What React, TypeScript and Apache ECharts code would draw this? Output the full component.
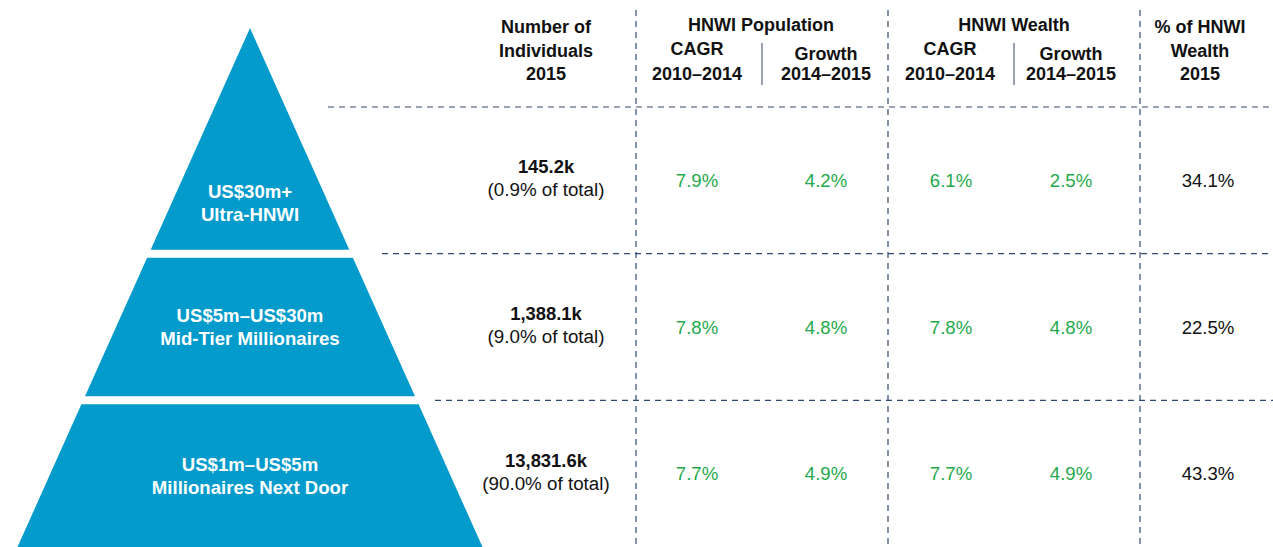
import React, { useEffect, useRef } from "react";
import * as echarts from "echarts";

// ---- data ----
const tierRanges = ["US$30m+", "US$5m–US$30m", "US$1m–US$5m"];
const tierNames = ["Ultra-HNWI", "Mid-Tier Millionaires", "Millionaires Next Door"];
const individualsK = [145.2, 1388.1, 13831.6];
const shareOfTotal = [0.9, 9.0, 90.0];
const popCagr = [7.9, 7.8, 7.7];
const popGrowth = [4.2, 4.8, 4.9];
const wealthCagr = [6.1, 7.8, 7.7];
const wealthGrowth = [2.5, 4.8, 4.9];
const wealthShare = [34.1, 22.5, 43.3];

const headerIndividuals = ["Number of", "Individuals", "2015"];
const groupHeaders = ["HNWI Population", "HNWI Wealth"];
const subHeaderCagr = ["CAGR", "2010–2014"];
const subHeaderGrowth = ["Growth", "2014–2015"];
const headerShare = ["% of HNWI", "Wealth", "2015"];

// ---- layout / style ----
const W = 1273;
const H = 547;
const FONT = '"Liberation Sans", Arial, Helvetica, sans-serif';
const BLUE = "#039bcc";
const GREEN = "#1fa94c";
const INK = "#111111";
const RULE = "#2f4a6f";
const PYR_CX = 250;
const APEX_Y = 28;
const SLOPE = 0.448;
const GAP = 8;
const COL_IND = 546;
const COL_PCT = [697, 826, 951, 1071, 1208];
const VLINES = [636, 888, 1140];
const SEPS = [762, 1014];
const GROUP_CX = [761, 1014];
const SUB_CX = [[697, 826], [950, 1071]];
const DASH_START = [328, 382, 435];

const fmt1 = (v: number) =>
  v.toLocaleString("en-US", { minimumFractionDigits: 1, maximumFractionDigits: 1 });

function headerText(text: string, x: number, y: number) {
  return {
    type: "text",
    style: {
      text,
      x,
      y,
      align: "center",
      verticalAlign: "middle",
      fill: INK,
      fontFamily: FONT,
      fontSize: 18,
      fontWeight: "bold",
    },
  };
}

export default function App() {
  const ref = useRef<HTMLDivElement>(null);

  useEffect(() => {
    if (!ref.current) return;
    const chart = echarts.init(ref.current, undefined, { renderer: "svg" });

    const pctCols = [popCagr, popGrowth, wealthCagr, wealthGrowth, wealthShare];

    const graphics: any[] = [];
    headerIndividuals.forEach((t, k) => graphics.push(headerText(t, COL_IND, 27 + k * 23.5)));
    headerShare.forEach((t, k) => graphics.push(headerText(t, 1200, 27 + k * 23.5)));
    groupHeaders.forEach((t, g) => {
      graphics.push(headerText(t, GROUP_CX[g], 25));
      graphics.push(headerText(subHeaderCagr[0], SUB_CX[g][0], 49));
      graphics.push(headerText(subHeaderCagr[1], SUB_CX[g][0], 74));
      graphics.push(headerText(subHeaderGrowth[0], SUB_CX[g][1], 54));
      graphics.push(headerText(subHeaderGrowth[1], SUB_CX[g][1], 74));
    });
    VLINES.forEach((x) =>
      graphics.push({
        type: "line",
        shape: { x1: x, y1: 10, x2: x, y2: H },
        style: { stroke: RULE, lineWidth: 1.2, lineDash: [6, 5] },
      })
    );
    SEPS.forEach((x) =>
      graphics.push({
        type: "line",
        shape: { x1: x, y1: 43, x2: x, y2: 85 },
        style: { stroke: "#54657f", lineWidth: 1.2 },
      })
    );

    const option: any = {
      animation: false,
      backgroundColor: "#ffffff",
      grid: { left: 0, right: 0, top: 107, height: 441 },
      xAxis: { type: "value", min: 0, max: 1, show: false },
      yAxis: { type: "category", data: tierNames, inverse: true, show: false },
      graphic: graphics,
      series: [
        {
          type: "custom",
          clip: false,
          encode: { x: 0, y: 1 },
          data: tierNames.map((_, i) => [0, i]),
          renderItem: (params: any, api: any) => {
            const i = params.dataIndex;
            const c = api.coord([0, i]);
            const band = api.size([0, 1])[1];
            const top = c[1] - band / 2;
            const bottom = c[1] + band / 2;
            const last = i === tierNames.length - 1;
            const segTop = i === 0 ? APEX_Y : top + GAP / 2;
            const segBottom = last ? bottom : bottom - GAP / 2;
            const hw = (y: number) => (y - APEX_Y) * SLOPE;
            const points = [
              [PYR_CX - hw(segTop), segTop],
              [PYR_CX + hw(segTop), segTop],
              [PYR_CX + hw(segBottom), segBottom],
              [PYR_CX - hw(segBottom), segBottom],
            ];
            const labelY = i === 0 ? segBottom - 47 : (segTop + segBottom) / 2;
            const children: any[] = [
              { type: "polygon", shape: { points }, style: { fill: BLUE } },
              {
                type: "text",
                style: {
                  text: tierRanges[i] + "\n" + tierNames[i],
                  x: PYR_CX,
                  y: labelY,
                  align: "center",
                  verticalAlign: "middle",
                  fill: "#ffffff",
                  fontFamily: FONT,
                  fontSize: 18.6,
                  fontWeight: "bold",
                  lineHeight: 23,
                },
              },
              {
                type: "line",
                shape: { x1: DASH_START[i], y1: top, x2: W, y2: top },
                style: { stroke: RULE, lineWidth: 1.2, lineDash: [6, 5] },
              },
              {
                type: "text",
                style: {
                  text:
                    "{b|" + fmt1(individualsK[i]) + "k}\n{n|(" + fmt1(shareOfTotal[i]) + "% of total)}",
                  x: COL_IND,
                  y: c[1] - 2,
                  align: "center",
                  verticalAlign: "middle",
                  rich: {
                    b: { fontFamily: FONT, fontSize: 18.4, fontWeight: "bold", fill: INK, lineHeight: 23, align: "center" },
                    n: { fontFamily: FONT, fontSize: 18.8, fill: INK, lineHeight: 23, align: "center" },
                  },
                },
              },
            ];
            pctCols.forEach((col, k) => {
              children.push({
                type: "text",
                style: {
                  text: fmt1(col[i]) + "%",
                  x: COL_PCT[k],
                  y: c[1],
                  align: "center",
                  verticalAlign: "middle",
                  fill: k < 4 ? GREEN : INK,
                  fontFamily: FONT,
                  fontSize: 18.6,
                },
              });
            });
            return { type: "group", children };
          },
        },
      ],
    };

    chart.setOption(option);
    return () => chart.dispose();
  }, []);

  return (
    <div
      ref={ref}
      style={{ position: "fixed", left: 0, top: 0, width: W, height: H, background: "#fff" }}
    />
  );
}
